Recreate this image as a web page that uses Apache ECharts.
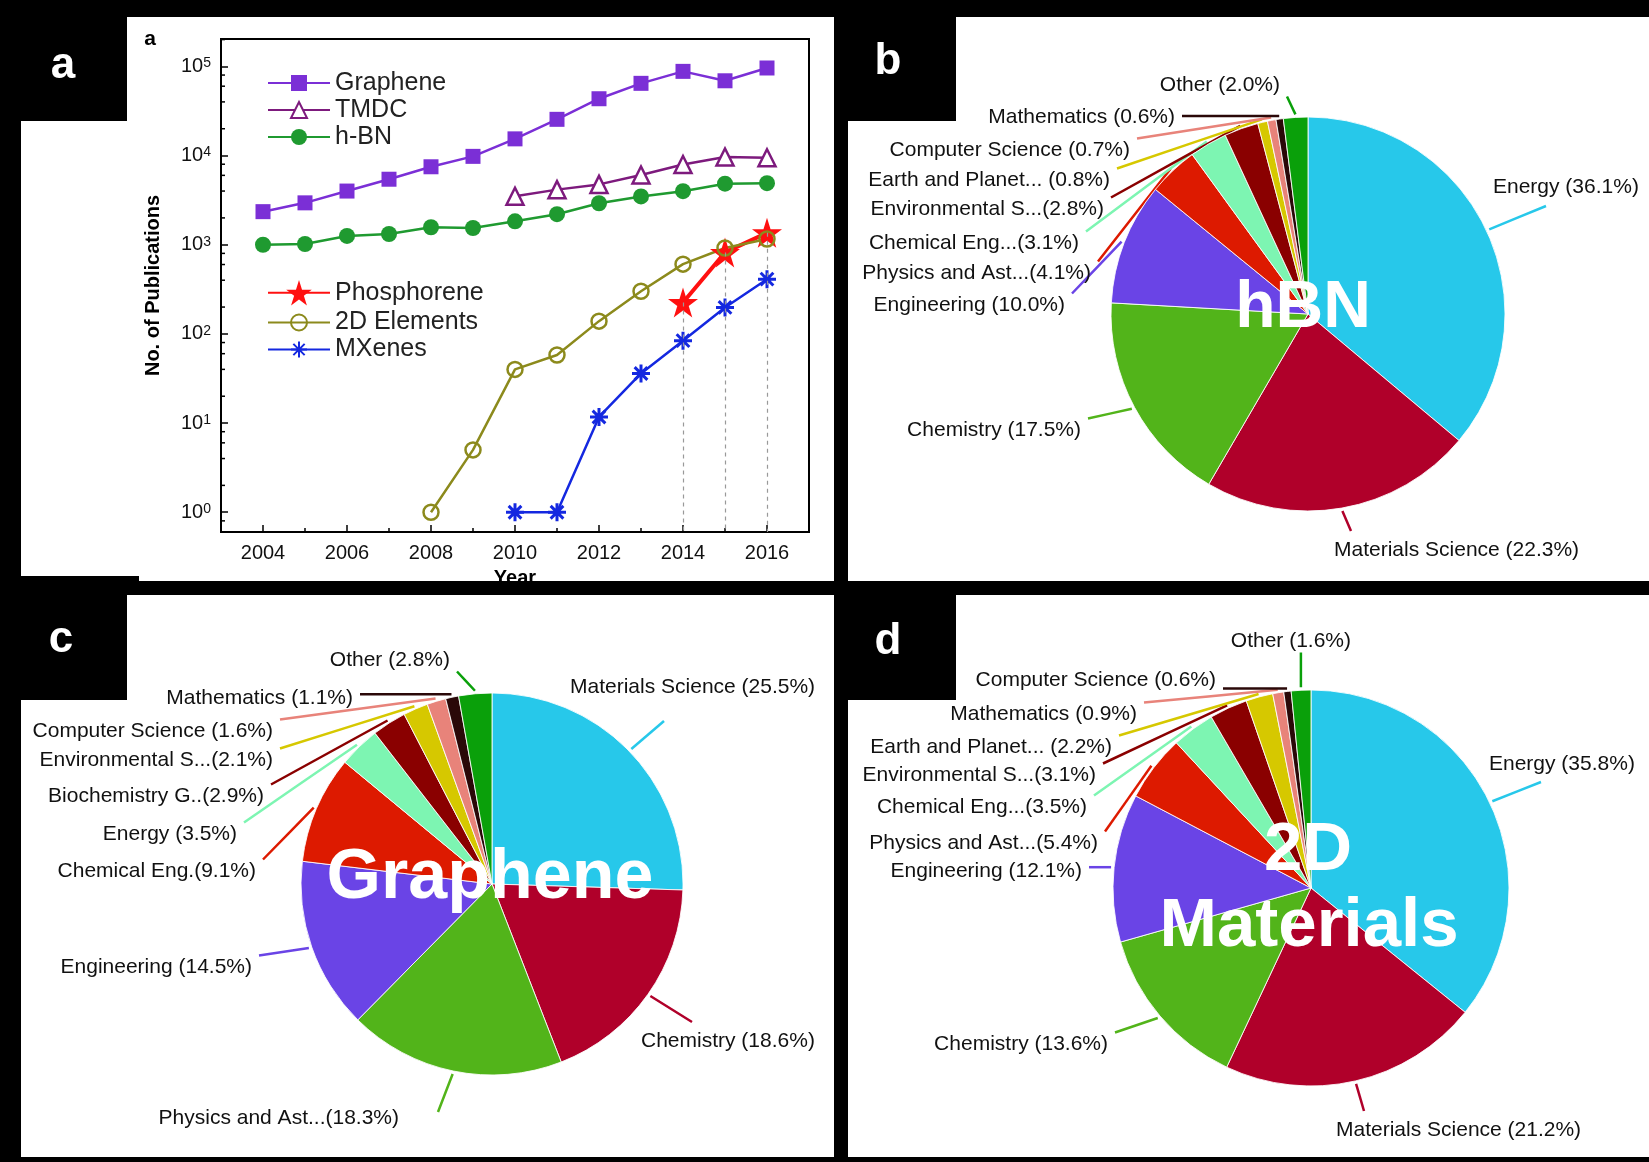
<!DOCTYPE html>
<html><head><meta charset="utf-8">
<script src="https://cdn.jsdelivr.net/npm/echarts@6.0.0/dist/echarts.min.js"></script>
<style>
html,body{margin:0;padding:0;background:#000;width:1649px;height:1162px;overflow:hidden;}
.panel{position:absolute;background:#fff;}
.tag{position:absolute;background:#000;}
#chart{position:absolute;left:0;top:0;width:1649px;height:1162px;}
</style></head><body>
<div class="panel" style="left:21px;top:17px;width:813px;height:564px"></div>
<div class="panel" style="left:848px;top:17px;width:801px;height:564px"></div>
<div class="panel" style="left:21px;top:595px;width:813px;height:562px"></div>
<div class="panel" style="left:848px;top:595px;width:801px;height:562px"></div>
<div class="tag" style="left:21px;top:17px;width:106px;height:104px"></div>
<div class="tag" style="left:848px;top:17px;width:108px;height:104px"></div>
<div class="tag" style="left:21px;top:595px;width:106px;height:105px"></div>
<div class="tag" style="left:848px;top:595px;width:108px;height:105px"></div>
<div class="tag" style="left:21px;top:576px;width:118px;height:5px"></div>
<div id="chart"></div>
<script>
// ---------------- data ----------------
const YEARS = [2004, 2005, 2006, 2007, 2008, 2009, 2010, 2011, 2012, 2013, 2014, 2015, 2016];
const TICK_YEARS = ['2003','2004','2005','2006','2007','2008','2009','2010','2011','2012','2013','2014','2015','2016','2017'];
const GRAPHENE = [2350, 2950, 4000, 5430, 7490, 9800, 15400, 25500, 43400, 64600, 88000, 69000, 96000];
const TMDC_YEARS = [2010, 2011, 2012, 2013, 2014, 2015, 2016];
const TMDC = [3500, 4150, 4750, 6050, 7950, 9650, 9450];
const HBN = [1000, 1020, 1255, 1320, 1570, 1540, 1830, 2200, 2920, 3480, 3990, 4840, 4900];
const PHOS_YEARS = [2014, 2015, 2016];
const PHOS = [225, 820, 1360];
const ELEM_YEARS = [2008, 2009, 2010, 2011, 2012, 2013, 2014, 2015, 2016];
const ELEM = [1, 5, 40, 58, 139, 301, 606, 920, 1160];
const MX_YEARS = [2010, 2011, 2012, 2013, 2014, 2015, 2016];
const MX = [1, 1, 11.7, 36, 84, 198, 411];

const HBN_NAMES = ['Energy', 'Materials Science', 'Chemistry', 'Engineering', 'Physics and Ast...', 'Chemical Eng...', 'Environmental S...', 'Earth and Planet...', 'Computer Science', 'Mathematics', 'Other'];
const HBN_SHARE = [36.1, 22.3, 17.5, 10.0, 4.1, 3.1, 2.8, 0.8, 0.7, 0.6, 2.0];
const GR_NAMES = ['Materials Science', 'Chemistry', 'Physics and Ast...', 'Engineering', 'Chemical Eng.', 'Energy', 'Biochemistry G..', 'Environmental S...', 'Computer Science', 'Mathematics', 'Other'];
const GR_SHARE = [25.5, 18.6, 18.3, 14.5, 9.1, 3.5, 2.9, 2.1, 1.6, 1.1, 2.8];
const TD_NAMES = ['Energy', 'Materials Science', 'Chemistry', 'Engineering', 'Physics and Ast...', 'Chemical Eng...', 'Environmental S...', 'Earth and Planet...', 'Mathematics', 'Computer Science', 'Other'];
const TD_SHARE = [35.8, 21.2, 13.6, 12.1, 5.4, 3.5, 3.1, 2.2, 0.9, 0.6, 1.6];
const NO_SPACE = ['Physics and Ast...', 'Chemical Eng...', 'Environmental S...', 'Biochemistry G..', 'Chemical Eng.'];

// ---------------- layout / style ----------------
const FONT = '"Liberation Sans", Arial, Helvetica, sans-serif';
const PIE_COLORS = ['#27C8EA', '#B0002A', '#52B41A', '#6A44E6', '#DD1A00', '#7DF5B2', '#8A0000', '#D6C800', '#E8837A', '#2A0808', '#0AA00A'];
// label anchor [x, y, align, optional leader-line end x, y]
const HBN_LABEL_POS = [[1493,187,'left',1546,206],[1334,550,'left',1351,531],[1081,430,'right'],[1065,305,'right'],[1091,273,'right'],[1079,243,'right'],[1104,209,'right'],[1110,180,'right'],[1130,150,'right'],[1175,117,'right'],[1280,85,'right']];
const GR_LABEL_POS = [[570,687,'left',664,721],[641,1041,'left',692,1022],[399,1118,'right',438,1112],[252,967,'right'],[256,871,'right'],[237,834,'right'],[264,796,'right'],[273,760,'right'],[273,731,'right'],[353,698,'right'],[450,660,'right']];
const TD_LABEL_POS = [[1489,764,'left',1541,782],[1336,1130,'left',1364,1111],[1108,1044,'right'],[1082,871,'right'],[1098,843,'right'],[1087,807,'right'],[1096,775,'right'],[1112,747,'right'],[1137,714,'right'],[1216,680,'right'],[1351,641,'right']];

const Y_MIN = 0.6, Y_MAX = 203000;
const STAR = 'path://M50,2L61.8,38.2L99.9,38.2L69,60.5L80.9,96.8L50,74.5L19.1,96.8L31,60.5L0.1,38.2L38.2,38.2Z';
const ASTER = 'path://M10,0L10,20M0,10L20,10M2.93,2.93L17.07,17.07M2.93,17.07L17.07,2.93';

const zip = (xs, ys) => xs.map((x, i) => [x, ys[i]]);
const MINOR = [];
for (let e = -1; e <= 5; e++) [2, 4, 6, 8].forEach(m => { const v = m * Math.pow(10, e); if (v > Y_MIN && v < Y_MAX) MINOR.push([2003, v]); });

function pieSeries(names, values, center, radius, labelPos) {
  const total = values.reduce((a, b) => a + b, 0);
  let cum = 0;
  const mids = values.map(v => { const m = (cum + v / 2) / total * 2 * Math.PI; cum += v; return m; });
  return {
    type: 'pie', center: center, radius: radius, startAngle: 90, clockwise: true,
    avoidLabelOverlap: false, animation: false, silent: true,
    itemStyle: { borderColor: 'rgba(255,255,255,0.85)', borderWidth: 1 },
    label: {
      show: true, position: 'outside', fontSize: 21, color: '#111', fontFamily: FONT,
      formatter: p => p.name + (NO_SPACE.indexOf(p.name) >= 0 ? '' : ' ') + '(' + p.value.toFixed(1) + '%)'
    },
    labelLine: { show: true, length: 10, length2: 10, lineStyle: { width: 2.5 } },
    labelLayout: function (params) {
      const i = params.dataIndex;
      const L = labelPos[i];
      const lx = L[0], ly = L[1], align = L[2];
      const w = params.labelRect.width, h = params.labelRect.height;
      const x0 = align === 'left' ? lx : lx - w;
      const rx = x0 - 7, ry = ly - h / 2 - 1, rw = w + 14, rh = h + 2;
      const th = mids[i];
      const R = radius + 3;
      const sx = center[0] + R * Math.sin(th), sy = center[1] - R * Math.cos(th);
      let ex, ey;
      if (L.length > 3) { ex = L[3]; ey = L[4]; }
      else { ex = Math.min(Math.max(sx, rx), rx + rw); ey = Math.min(Math.max(sy, ry), ry + rh); }
      return { x: lx, y: ly, align: align, verticalAlign: 'middle',
        labelLinePoints: [[sx, sy], [(sx + ex) / 2, (sy + ey) / 2], [ex, ey]] };
    },
    data: names.map((n, i) => ({ name: n, value: values[i], itemStyle: { color: PIE_COLORS[i] } }))
  };
}

const chart = echarts.init(document.getElementById('chart'), null, { renderer: 'canvas' });
const legendText = { fontSize: 25, color: '#222', fontFamily: FONT };
const legendBase = { orient: 'vertical', left: 262, itemWidth: 62, itemGap: 2, textStyle: legendText, selectedMode: false };
const option = {
  animation: false,
  textStyle: { fontFamily: FONT },
  grid: { left: 221, top: 39, width: 588, height: 493, show: true, borderColor: '#000', borderWidth: 2, backgroundColor: 'transparent' },
  legend: [
    Object.assign({ data: ['Graphene', 'TMDC', 'h-BN'], top: 65.5, itemHeight: 20 }, legendBase),
    Object.assign({ data: ['Phosphorene'], top: 275, itemHeight: 32 }, legendBase),
    Object.assign({ data: ['2D Elements', 'MXenes'], top: 305, itemHeight: 20 }, legendBase)
  ],
  xAxis: [
    { type: 'value', min: 2003, max: 2017, interval: 1, position: 'bottom',
      axisLine: { show: true, lineStyle: { color: '#000', width: 2 } },
      axisTick: { show: true, inside: true, length: 4, lineStyle: { color: '#000', width: 1.5 } },
      axisLabel: { show: false }, splitLine: { show: false },
      name: 'Year', nameLocation: 'middle', nameGap: 36,
      nameTextStyle: { fontSize: 20, fontWeight: 'bold', color: '#000', fontFamily: FONT } },
    { type: 'category', data: TICK_YEARS, boundaryGap: false, position: 'bottom', gridIndex: 0,
      axisLine: { show: false },
      axisTick: { show: true, inside: true, length: 7, interval: i => i % 2 === 1, lineStyle: { color: '#000', width: 1.5 } },
      axisLabel: { show: true, interval: i => i % 2 === 1, fontSize: 20, color: '#111', margin: 11, fontFamily: FONT },
      splitLine: { show: false } }
  ],
  yAxis: {
    type: 'log', logBase: 10, min: Y_MIN, max: Y_MAX,
    axisLine: { show: true, lineStyle: { color: '#000', width: 2 } },
    axisTick: { show: true, inside: true, length: 7, lineStyle: { color: '#000', width: 1.5 } },
    splitLine: { show: false }, minorTick: { show: false },
    axisLabel: {
      margin: 10, color: '#111',
      formatter: v => { const l = Math.log10(v); const e = Math.round(l); if (Math.abs(l - e) > 1e-6) return ''; return '{b|10}{s|' + e + '}'; },
      rich: { b: { fontSize: 20, color: '#111', fontFamily: FONT }, s: { fontSize: 14, color: '#111', fontFamily: FONT, verticalAlign: 'top' } }
    },
    name: 'No. of Publications', nameLocation: 'middle', nameGap: 58,
    nameTextStyle: { fontSize: 20, fontWeight: 'bold', color: '#000', fontFamily: FONT }
  },
  graphic: [
    { type: 'text', x: 63, y: 66, z: 100, style: { text: 'a', fill: '#fff', font: 'bold 44px ' + FONT, textAlign: 'center', textVerticalAlign: 'middle' } },
    { type: 'text', x: 888, y: 62, z: 100, style: { text: 'b', fill: '#fff', font: 'bold 44px ' + FONT, textAlign: 'center', textVerticalAlign: 'middle' } },
    { type: 'text', x: 61, y: 640, z: 100, style: { text: 'c', fill: '#fff', font: 'bold 44px ' + FONT, textAlign: 'center', textVerticalAlign: 'middle' } },
    { type: 'text', x: 888, y: 641.8, z: 100, style: { text: 'd', fill: '#fff', font: 'bold 44px ' + FONT, textAlign: 'center', textVerticalAlign: 'middle' } },
    { type: 'text', x: 150, y: 39, z: 100, style: { text: 'a', fill: '#000', font: 'bold 21px ' + FONT, textAlign: 'center', textVerticalAlign: 'middle' } },
    { type: 'text', x: 1303, y: 309, z: 100, style: { text: 'hBN', fill: '#fff', font: 'bold 66px ' + FONT, textAlign: 'center', textVerticalAlign: 'middle' } },
    { type: 'text', x: 490, y: 879, z: 100, style: { text: 'Graphene', fill: '#fff', font: 'bold 70px ' + FONT, textAlign: 'center', textVerticalAlign: 'middle' } },
    { type: 'text', x: 1308, y: 851, z: 100, style: { text: '2D', fill: '#fff', font: 'bold 69px ' + FONT, textAlign: 'center', textVerticalAlign: 'middle' } },
    { type: 'text', x: 1309, y: 927, z: 100, style: { text: 'Materials', fill: '#fff', font: 'bold 69px ' + FONT, textAlign: 'center', textVerticalAlign: 'middle' } }
  ],
  series: [
    { type: 'custom', silent: true, xAxisIndex: 0, data: MINOR, z: 5,
      renderItem: (params, api) => { const p = api.coord([api.value(0), api.value(1)]);
        return { type: 'line', shape: { x1: p[0], y1: p[1], x2: p[0] + 4, y2: p[1] }, style: { stroke: '#000', lineWidth: 1.5 } }; } },
    { name: 'Graphene', type: 'line', xAxisIndex: 0, data: zip(YEARS, GRAPHENE), symbol: 'rect', symbolSize: 15, showAllSymbol: true,
      color: '#7B2FD6', lineStyle: { width: 2.5, color: '#7B2FD6' }, itemStyle: { color: '#7B2FD6' } },
    { name: 'TMDC', type: 'line', xAxisIndex: 0, data: zip(TMDC_YEARS, TMDC), symbol: 'triangle', symbolSize: 17, showAllSymbol: true,
      color: '#7D1A7D', lineStyle: { width: 2.5, color: '#7D1A7D' }, itemStyle: { color: '#fff', borderColor: '#7D1A7D', borderWidth: 2.5 } },
    { name: 'h-BN', type: 'line', xAxisIndex: 0, data: zip(YEARS, HBN), symbol: 'circle', symbolSize: 16, showAllSymbol: true,
      color: '#1F9A30', lineStyle: { width: 2.5, color: '#1F9A30' }, itemStyle: { color: '#1F9A30' } },
    { name: 'Phosphorene', type: 'line', xAxisIndex: 0, data: zip(PHOS_YEARS, PHOS), symbol: STAR, symbolSize: 30, showAllSymbol: true,
      color: '#FF1010', lineStyle: { width: 4, color: '#FF1010' }, itemStyle: { color: '#FF1010' },
      markLine: { silent: true, symbol: 'none', label: { show: false }, animation: false,
        lineStyle: { color: '#999', type: [4, 4], width: 1.2 },
        data: PHOS_YEARS.map((y, i) => [{ coord: [y, PHOS[i]] }, { coord: [y, Y_MIN] }]) } },
    { name: '2D Elements', type: 'line', xAxisIndex: 0, data: zip(ELEM_YEARS, ELEM), symbol: 'circle', symbolSize: 15, showAllSymbol: true,
      color: '#8C8A1C', lineStyle: { width: 2.5, color: '#8C8A1C' }, itemStyle: { color: 'rgba(255,255,255,0)', borderColor: '#8C8A1C', borderWidth: 2.5 } },
    { name: 'MXenes', type: 'line', xAxisIndex: 0, data: zip(MX_YEARS, MX), symbol: ASTER, symbolSize: 18, showAllSymbol: true,
      color: '#1428E0', lineStyle: { width: 2.5, color: '#1428E0' }, itemStyle: { color: '#1428E0', borderColor: '#1428E0', borderWidth: 3 } },
    pieSeries(HBN_NAMES, HBN_SHARE, [1308, 314], 197, HBN_LABEL_POS),
    pieSeries(GR_NAMES, GR_SHARE, [492, 884], 191, GR_LABEL_POS),
    pieSeries(TD_NAMES, TD_SHARE, [1311, 888], 198, TD_LABEL_POS)
  ]
};
chart.setOption(option);
</script>
</body></html>
